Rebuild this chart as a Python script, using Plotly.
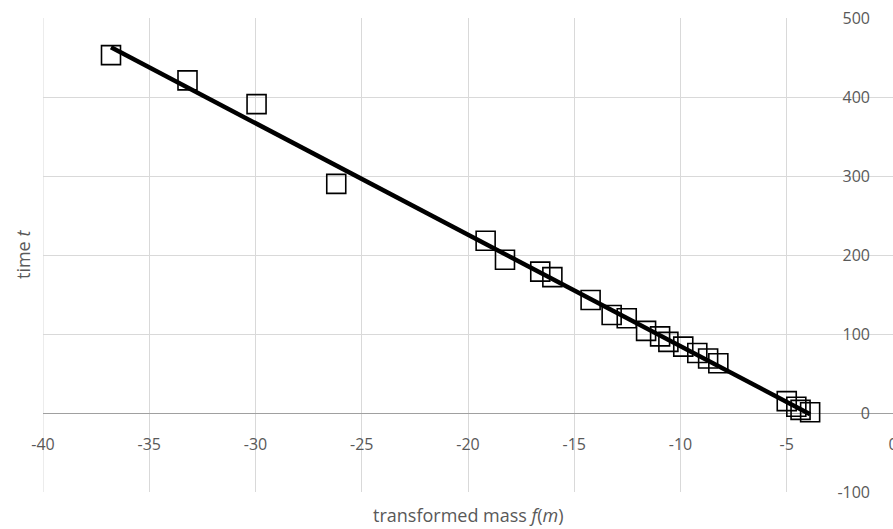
import numpy as np
import plotly.graph_objects as go

# data
mass_f = [-36.8, -33.2, -29.95, -26.2, -19.17, -18.26, -16.6, -16.03, -14.23, -13.24,
          -12.53, -11.62, -10.96, -10.57, -9.87, -9.21, -8.7, -8.22, -5.0, -4.55, -4.35, -3.9]
time_t = [453, 421, 391, 290, 218, 194, 179, 172, 143, 124,
          120, 104, 97, 90, 84, 76, 69, 63, 15, 8, 4, 1]
x_ticks = [-40, -35, -30, -25, -20, -15, -10, -5, 0]
y_ticks = [-100, 0, 100, 200, 300, 400, 500]

# linear trendline (least squares), drawn between min and max x
slope, intercept = np.polyfit(mass_f, time_t, 1)
tx = [min(mass_f), max(mass_f)]
ty = [slope * v + intercept for v in tx]

GRID = "#d9d9d9"
TXT = "#595959"
FONT = "Open Sans, Noto Sans, sans-serif"

fig = go.Figure()
fig.add_trace(go.Scatter(x=mass_f, y=time_t, mode="markers",
                         marker=dict(symbol="square-open", size=19, color="black",
                                     line=dict(width=1.6, color="black")),
                         showlegend=False))
fig.add_trace(go.Scatter(x=tx, y=ty, mode="lines",
                         line=dict(color="black", width=4.5), showlegend=False))

fig.update_layout(
    width=893, height=529,
    margin=dict(l=43, r=0, t=18, b=37, autoexpand=False),
    plot_bgcolor="white", paper_bgcolor="white",
    font=dict(family=FONT, color=TXT, size=16),
    xaxis=dict(range=[-40, 0], tickvals=x_ticks, ticktext=[str(v) for v in x_ticks],
               showgrid=True, gridcolor=GRID, gridwidth=1,
               zeroline=False, showline=False, ticks="",
               anchor="free", position=(492 - 413) / 474,
               ticklabelstandoff=20, ticklabeloverflow="allow", automargin=False,
               tickfont=dict(size=16, color=TXT, family=FONT)),
    yaxis=dict(range=[-100, 500], tickvals=y_ticks, ticktext=[str(v) for v in y_ticks],
               side="right", ticklabelposition="inside", ticklabelstandoff=20,
               ticklabeloverflow="allow",
               showgrid=True, gridcolor=GRID, gridwidth=1,
               zeroline=True, zerolinecolor="#a0a0a0", zerolinewidth=1.3,
               showline=False, ticks="", automargin=False,
               tickfont=dict(size=16, color=TXT, family=FONT)),
    annotations=[
        dict(text="time <i>t</i>", xref="paper", yref="paper", x=0, y=0.5,
             xanchor="center", yanchor="middle", xshift=-20, textangle=-90,
             showarrow=False, font=dict(size=18, color=TXT, family=FONT)),
        dict(text="transformed mass <i>f</i>(<i>m</i>)", xref="paper", yref="paper",
             x=0.5, y=0, xanchor="center", yanchor="top", yshift=-9,
             showarrow=False, font=dict(size=18, color=TXT, family=FONT)),
    ],
)
# left border (x=-40)
fig.add_shape(type="line", xref="x", yref="paper", x0=-40, x1=-40, y0=0, y1=1,
              line=dict(color=GRID, width=1), layer="below")

fig.write_html("out.html", config={"displayModeBar": False},
               post_script="document.body.style.margin='0';document.body.style.padding='0';")
